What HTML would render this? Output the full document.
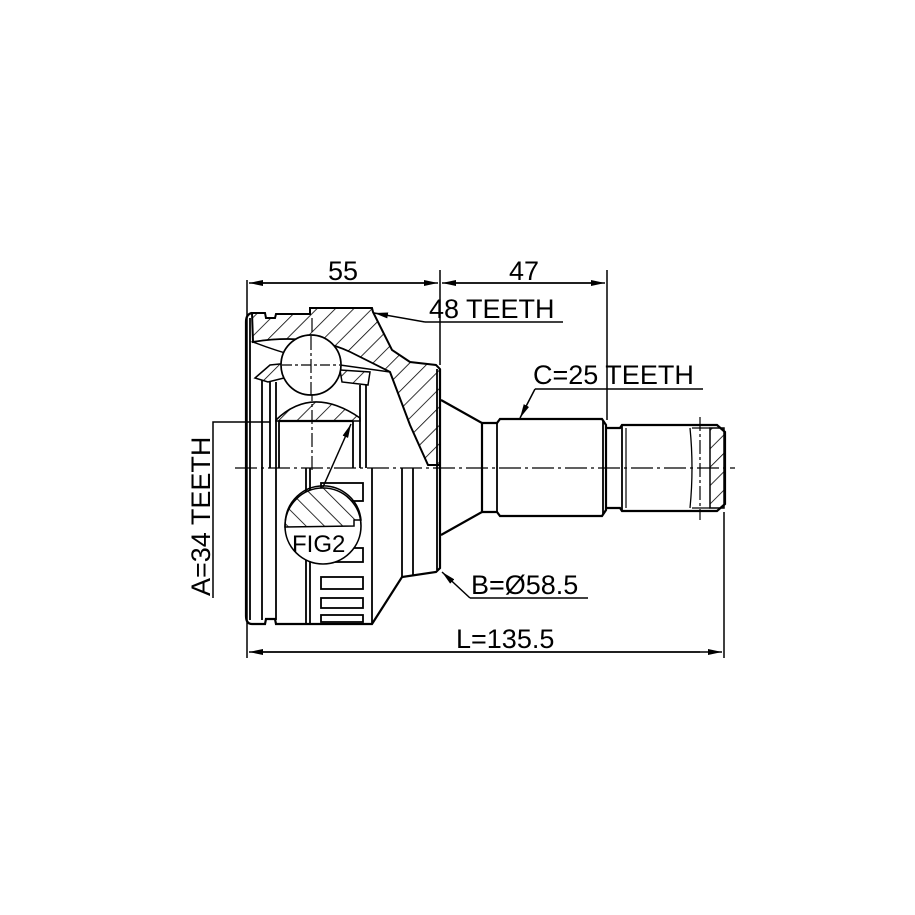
<!DOCTYPE html>
<html><head><meta charset="utf-8"><style>html,body{margin:0;padding:0;background:#fff}svg{display:block}</style></head>
<body>
<svg width="915" height="915" viewBox="0 0 915 915" xmlns="http://www.w3.org/2000/svg">
<defs>
<pattern id="h" patternUnits="userSpaceOnUse" width="13" height="13" patternTransform="rotate(45)">
<line x1="0" y1="0" x2="0" y2="13" stroke="#000" stroke-width="1.6"/>
</pattern>
<pattern id="h2" patternUnits="userSpaceOnUse" width="13" height="13" patternTransform="rotate(-45)">
<line x1="0" y1="0" x2="0" y2="13" stroke="#000" stroke-width="1.6"/>
</pattern>
<marker id="a" markerWidth="14" markerHeight="6" refX="14" refY="3" orient="auto" markerUnits="userSpaceOnUse">
<path d="M0,0 L14,3 L0,6 Z" fill="#000"/>
</marker>
</defs>
<g fill="none" stroke="#000" stroke-width="1.5">
<line x1="247" y1="280" x2="247" y2="658"/>
<line x1="440" y1="270" x2="440" y2="365"/>
<line x1="607" y1="270" x2="607" y2="420"/>
<line x1="724" y1="512" x2="724" y2="658"/>
<line x1="260" y1="283" x2="438" y2="283" marker-end="url(#a)"/>
<line x1="430" y1="283" x2="249" y2="283" marker-end="url(#a)"/>
<line x1="450" y1="283" x2="605" y2="283" marker-end="url(#a)"/>
<line x1="600" y1="283" x2="442" y2="283" marker-end="url(#a)"/>
<line x1="260" y1="652" x2="722" y2="652" marker-end="url(#a)"/>
<line x1="700" y1="652" x2="249" y2="652" marker-end="url(#a)"/>
<polyline points="563,322 425,322"/>
<line x1="425" y1="322" x2="374" y2="313" marker-end="url(#a)"/>
<polyline points="703,389 535,389"/>
<line x1="535" y1="389" x2="520" y2="418" marker-end="url(#a)"/>
<polyline points="588,598 470,598"/>
<line x1="470" y1="598" x2="442" y2="572" marker-end="url(#a)"/>
<polyline points="213,598 213,422 270,422"/>
<line x1="323" y1="487" x2="351" y2="424" marker-end="url(#a)"/>
<line x1="235" y1="468" x2="735" y2="468" stroke-width="1.2" stroke-dasharray="22,4,3,4"/>
<line x1="312" y1="318" x2="312" y2="470" stroke-width="1.2" stroke-dasharray="14,3,3,3"/>
<line x1="700" y1="417" x2="700" y2="520" stroke-width="1.2" stroke-dasharray="14,3,3,3"/>
</g>
<path d="M252,313 L265,313 L266,318 L275,318 L276,314 L310,314 L310,308 L372,308 L373,312 L392,350 L410,362 L436,365 L440,369 L440,465 L428,465 L410,425 L390,372 L350,352 Q310,333 253,342 Z" fill="url(#h)" stroke="#000" stroke-width="2"/>
<path d="M253,342 Q310,333 350,352 L390,372 L340,365 Q300,360 253,342 Z" fill="#fff" stroke="#000" stroke-width="1.5"/>
<path d="M255,378 L270,365 L300,362 L300,374 L268,382 Z" fill="url(#h)" stroke="#000" stroke-width="1.5"/>
<path d="M340,370 L370,372 L368,385 L342,382 Z" fill="url(#h)" stroke="#000" stroke-width="1.5"/>
<path d="M276,420 Q312,385 360,418 L360,421 L276,421 Z" fill="url(#h)" stroke="#000" stroke-width="1.6"/>
<circle cx="311" cy="365" r="30" fill="#fff" stroke="#000" stroke-width="1.7"/>
<line x1="282" y1="365" x2="340" y2="365" stroke="#000" stroke-width="1.2" stroke-dasharray="10,3,3,3"/>
<line x1="311" y1="336" x2="311" y2="395" stroke="#000" stroke-width="1.2" stroke-dasharray="14,3,3,3"/>
<g fill="none" stroke="#000" stroke-width="1.8">
<path d="M252,313 Q246,314 246,322 L246,616 Q246,624 252,624 L265,624 L266,619 L275,619 L276,624 L372,624 L402,577 L436,572 L440,568 L440,369" stroke-width="2.2"/>
<line x1="250" y1="318" x2="250" y2="620"/>
<line x1="262" y1="380" x2="262" y2="620"/>
<line x1="270" y1="382" x2="270" y2="468"/>
<line x1="276" y1="382" x2="276" y2="620"/>
<line x1="279" y1="421" x2="279" y2="468"/>
<line x1="353" y1="421" x2="353" y2="468"/>
<line x1="279" y1="421" x2="353" y2="421" stroke-width="2.2"/>
<line x1="360" y1="385" x2="360" y2="468"/>
<line x1="366" y1="385" x2="366" y2="468"/>
<line x1="306" y1="468" x2="306" y2="624"/>
<line x1="310" y1="468" x2="310" y2="624"/>
<line x1="372" y1="468" x2="372" y2="624"/>
<line x1="402" y1="468" x2="402" y2="577"/>
<line x1="413" y1="468" x2="413" y2="575"/>
<line x1="437" y1="369" x2="437" y2="570"/>
<rect x="321" y="483" width="42" height="18"/>
<rect x="321" y="548" width="42" height="14"/>
<rect x="321" y="577" width="42" height="12"/>
<rect x="321" y="598" width="42" height="10"/>
<rect x="321" y="615" width="42" height="7"/>
<path d="M441,400 L482,423 L482,512 L441,535" stroke-width="2.2"/>
<path d="M482,423 L497,423 L500,419 L602,419 L606,425 L606,510 L602,516 L500,516 L497,512 L482,512" stroke-width="2.2"/>
<line x1="497" y1="423" x2="497" y2="512"/>
<line x1="603" y1="421" x2="603" y2="514"/>
<path d="M606,428 L620,428 L622,425 L717,425 L725,432 L725,504 L717,511 L622,511 L620,508 L606,508" stroke-width="2.2"/>
<line x1="622" y1="425" x2="622" y2="511"/>
<line x1="626" y1="428" x2="626" y2="508" stroke-width="1.2"/>
<path d="M690,428 Q694,468 690,508" stroke-width="1.3"/>
<line x1="692" y1="428" x2="710" y2="428" stroke-width="1.2"/>
<line x1="692" y1="508" x2="710" y2="508" stroke-width="1.2"/>
</g>
<rect x="710" y="428" width="14" height="80" fill="url(#h)" stroke="#000" stroke-width="1.5"/>
<circle cx="323" cy="526" r="38" fill="#fff" stroke="#000" stroke-width="1.6"/>
<path d="M285.3,521 A38,38 0 0 1 361,520 L354,520 L354,526 L285,527 Z" fill="url(#h2)" stroke="#000" stroke-width="1.5"/>
<g font-family="Liberation Sans, sans-serif" font-size="27" fill="#000">
<text x="343" y="280" text-anchor="middle">55</text>
<text x="524" y="280" text-anchor="middle">47</text>
<text x="429" y="318">48 TEETH</text>
<text x="533" y="384">C=25 TEETH</text>
<text x="471" y="594">B=Ø58.5</text>
<text x="456" y="648">L=135.5</text>
<text x="292" y="552" font-size="24">FIG2</text>
<text transform="translate(210,596) rotate(-90)">A=34 TEETH</text>
</g>
</svg>
</body></html>
